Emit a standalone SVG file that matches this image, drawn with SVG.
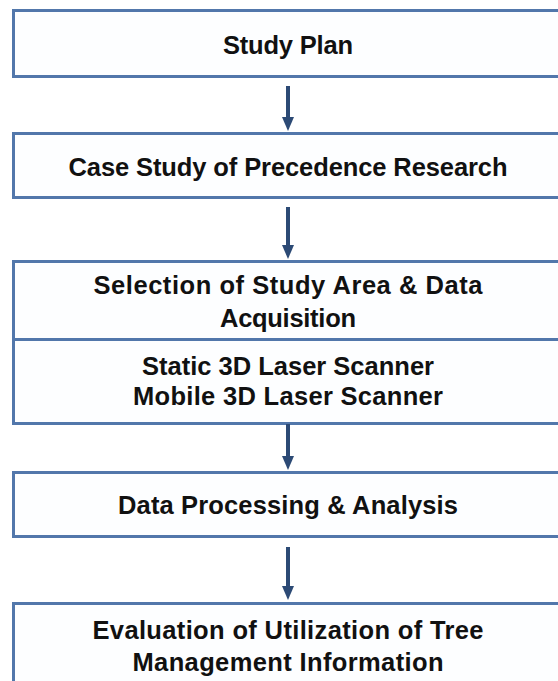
<svg xmlns="http://www.w3.org/2000/svg" width="558" height="681" viewBox="0 0 558 681">
<style>
.box{fill:#fdfeff;stroke:#5277ab;stroke-width:3}
.sep{stroke:#5277ab;stroke-width:3}
.t{font-family:"Liberation Sans",Arial,sans-serif;font-weight:bold;font-size:25.5px;fill:#111;text-anchor:middle}
.c{stroke:#2c4a75;stroke-width:4;fill:none}
.h{fill:#2c4a75}
</style>
<rect width="558" height="681" fill="#ffffff"/>
<g id="n1"><rect class="box" x="13.5" y="10.5" width="560" height="66"/><text class="t" x="288" y="54" textLength="130" lengthAdjust="spacing">Study Plan</text></g>
<g id="n2"><rect class="box" x="13.5" y="133.5" width="560" height="64"/><text class="t" x="288" y="176" textLength="439" lengthAdjust="spacing">Case Study of Precedence Research</text></g>
<g id="n3"><rect class="box" x="13.5" y="261.5" width="560" height="162"/><line class="sep" x1="13" y1="339.5" x2="560" y2="339.5"/><text class="t" x="288" y="294" textLength="389" lengthAdjust="spacing">Selection of Study Area &amp; Data</text><text class="t" x="288" y="327" textLength="136" lengthAdjust="spacing">Acquisition</text><text class="t" x="288" y="375" textLength="292" lengthAdjust="spacing">Static 3D Laser Scanner</text><text class="t" x="288" y="405" textLength="310" lengthAdjust="spacing">Mobile 3D Laser Scanner</text></g>
<g id="n4"><rect class="box" x="13.5" y="472.5" width="560" height="64"/><text class="t" x="288" y="514" textLength="340" lengthAdjust="spacing">Data Processing &amp; Analysis</text></g>
<g id="n5"><rect class="box" x="13.5" y="603.5" width="560" height="100"/><text class="t" x="288" y="639" textLength="391" lengthAdjust="spacing">Evaluation of Utilization of Tree</text><text class="t" x="288" y="671" textLength="311" lengthAdjust="spacing">Management Information</text></g>
<g id="connectors">
<line class="c" x1="288" y1="86" x2="288" y2="118"/><polygon class="h" points="282,117 294,117 288,131"/>
<line class="c" x1="288" y1="207" x2="288" y2="246"/><polygon class="h" points="282,245 294,245 288,259"/>
<line class="c" x1="288" y1="424" x2="288" y2="457"/><polygon class="h" points="282,456 294,456 288,470"/>
<line class="c" x1="288" y1="547" x2="288" y2="587"/><polygon class="h" points="282,586 294,586 288,600"/>
</g>
</svg>
